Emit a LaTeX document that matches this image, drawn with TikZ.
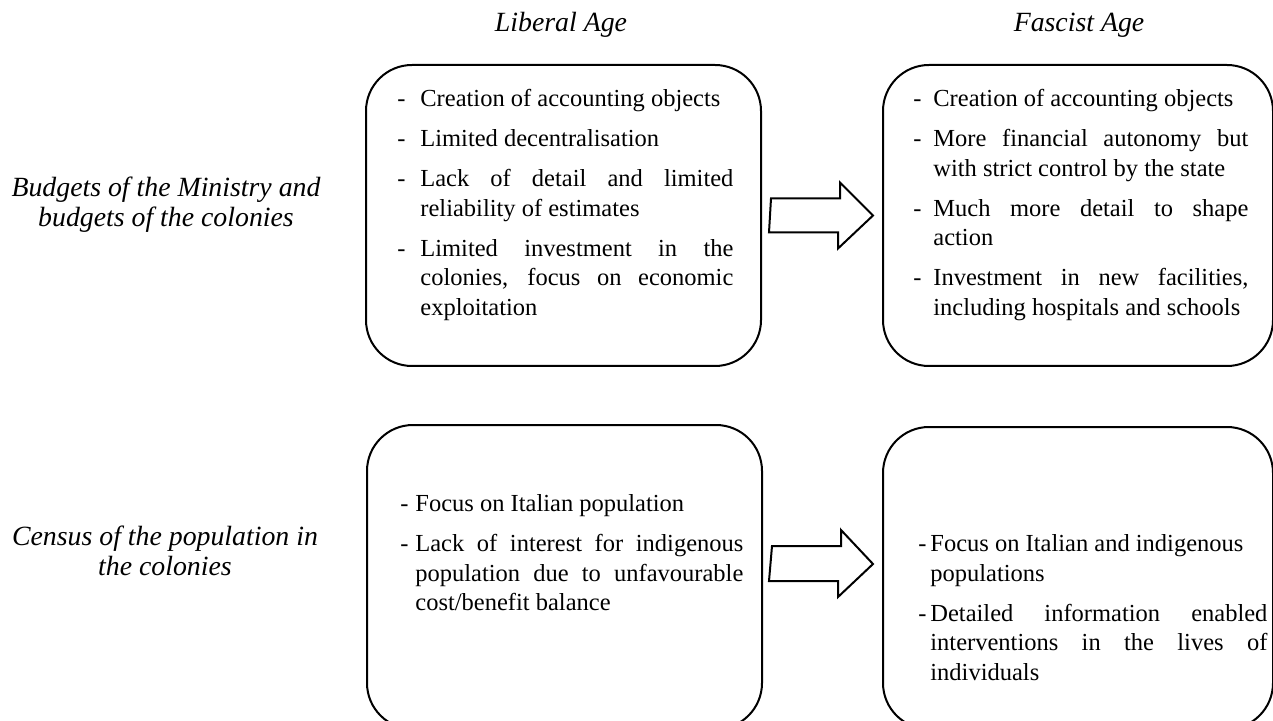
\documentclass[tikz,border=0pt]{standalone}
\usepackage{fontspec}
\setmainfont{Liberation Serif}
\usetikzlibrary{calc}
\newlength\dashind
\newcommand{\bodyfont}{\fontsize{12.25pt}{14.75pt}\selectfont\setlength{\parskip}{5.25pt}%
  \hyphenpenalty=10000\exhyphenpenalty=10000\tolerance=9999}
\newcommand{\sidefont}{\fontsize{13.9pt}{15pt}\selectfont\itshape}
\newcommand{\dashitem}[1]{\par\hangindent=\dashind\hangafter=1\noindent\strut\makebox[\dashind][l]{-}#1}

\begin{document}
\begin{tikzpicture}[x=0.5pt,y=-0.5pt,
  bx/.style={draw,line width=1pt,rounded corners=23pt,anchor=north west,inner sep=0pt},
  lst/.style={anchor=north west,inner sep=0pt,text width=#1,align=justify,font=\bodyfont},
  hd/.style={anchor=base,font=\sidefont},
  side/.style={align=center,font=\sidefont},
  blk/.style={draw,line width=1pt,line join=miter}]
\useasboundingbox (0,0) rectangle (1273,721);
% column heads
\node[hd] (lib) at (561,32) {Liberal Age};
\node[hd] (fas) at (1079,32) {Fascist Age};
% row labels
\node[side] (budg) at (166,205) {Budgets of the Ministry and\\budgets of the colonies};
\node[side] (cens) at (165,551) {Census of the population in\\the colonies};
% boxes
\node[bx,minimum width=197.5pt,minimum height=150.5pt] (lb) at (365,64) {};
\node[bx,minimum width=195pt,minimum height=150.5pt] (fb) at (882,64) {};
\node[bx,minimum width=197.5pt,minimum height=152pt] (lc) at (366,424) {};
\node[bx,minimum width=195pt,minimum height=151pt] (fc) at (882,426) {};
% box texts
\node[lst=168pt] (lbt) at (397,66.4) {\setlength\dashind{11.5pt}%
\dashitem{Creation of accounting objects}
\dashitem{Limited decentralisation}
\dashitem{Lack of detail and limited reliability of estimates}
\dashitem{Limited investment in the colonies, focus on economic exploitation}\par};
\node[lst=167.5pt] (fbt) at (913,66.4) {\setlength\dashind{10pt}%
\dashitem{Creation of accounting objects}
\dashitem{More financial autonomy but with strict control by the state}
\dashitem{Much more detail to shape action}
\dashitem{Investment in new facilities, including hospitals and schools}\par};
\node[lst=171.5pt] (lct) at (400,471.4) {\setlength\dashind{7.5pt}%
\dashitem{Focus on Italian population}
\dashitem{Lack of interest for indigenous population due to unfavourable cost/benefit balance}\par};
\node[lst=174.5pt] (fct) at (918,511.4) {\setlength\dashind{6pt}%
\dashitem{Focus on Italian and indigenous\newline populations}
\dashitem{Detailed information enabled interventions in the lives of individuals}\par};
% block arrows
\foreach \s/\t/\dy in {lb/fb/0,lc/fc/-14}
  \draw[blk] ($(\s.east)+(9,\dy-17)$) -- ++(69,0) -- ++(0,-16) -- ($(\t.west)+(-9,\dy)$)
    -- ++(-35,33) -- ++(0,-16) -- ++(-69,0) -- cycle;
\end{tikzpicture}
\end{document}
